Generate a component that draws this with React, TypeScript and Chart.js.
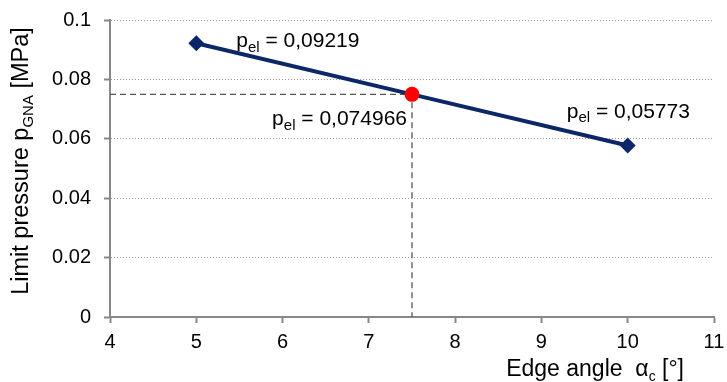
import React, { useEffect, useRef } from "react";
import { Chart, registerables } from "chart.js";

Chart.register(...registerables);

const edgeAngles = [5, 7.5, 10];
const limitPressures = [0.09219, 0.074966, 0.05773];
const labelTexts = ["0,09219", "0,074966", "0,05773"];
const xTicks = [4, 5, 6, 7, 8, 9, 10, 11];
const yTicks = [0, 0.02, 0.04, 0.06, 0.08, 0.1];

const FONT = "Arial, 'Liberation Sans', sans-serif";
const NAVY = "#0c2767";

function drawSubText(
  ctx: CanvasRenderingContext2D,
  parts: { t: string; sub?: boolean }[],
  x: number,
  y: number,
  size: number,
  align: "left" | "right" | "center",
  subRatio = 0.7
) {
  const subSize = Math.round(size * subRatio);
  let total = 0;
  const widths = parts.map((p) => {
    ctx.font = `${p.sub ? subSize : size}px ${FONT}`;
    const w = ctx.measureText(p.t).width;
    total += w;
    return w;
  });
  let cx = align === "left" ? x : align === "right" ? x - total : x - total / 2;
  ctx.textBaseline = "alphabetic";
  ctx.textAlign = "left";
  parts.forEach((p, i) => {
    ctx.font = `${p.sub ? subSize : size}px ${FONT}`;
    ctx.fillText(p.t, cx, p.sub ? y + size * 0.23 : y);
    cx += widths[i];
  });
}

const annotPlugin = {
  id: "annot",
  afterDatasetsDraw(chart: any) {
    const ctx = chart.ctx as CanvasRenderingContext2D;
    const xs = chart.scales.x;
    const ys = chart.scales.y;
    ctx.save();
    ctx.fillStyle = "#000";
    const px = edgeAngles.map((v) => xs.getPixelForValue(v));
    const py = limitPressures.map((v) => ys.getPixelForValue(v));
    const mk = (val: string) => [{ t: "p" }, { t: "el", sub: true }, { t: " = " + val }];
    drawSubText(ctx, mk(labelTexts[0]), px[0] + 40, py[0] + 4, 21, "left", 0.72);
    drawSubText(ctx, mk(labelTexts[1]), px[1] - 5, py[1] + 31, 21, "right", 0.72);
    drawSubText(ctx, mk(labelTexts[2]), px[2] - 61, py[2] - 28, 21, "left", 0.72);

    // axis titles
    drawSubText(
      ctx,
      [{ t: "Edge angle  α" }, { t: "c", sub: true }, { t: " [°]" }],
      684,
      376,
      23,
      "right",
      0.62
    );
    ctx.translate(27.5, 161);
    ctx.rotate(-Math.PI / 2);
    drawSubText(
      ctx,
      [{ t: "Limit pressure p" }, { t: "GNA", sub: true }, { t: " [MPa]" }],
      0,
      0,
      23.5,
      "center",
      0.62
    );
    ctx.restore();
  },
};

export default function App() {
  const ref = useRef<HTMLCanvasElement | null>(null);
  useEffect(() => {
    if (!ref.current) return;
    const mainData = edgeAngles.map((x, i) => ({ x, y: limitPressures[i] }));
    const mid = mainData[1];
    const guide = [
      { x: xTicks[0], y: mid.y },
      { x: mid.x, y: mid.y },
      { x: mid.x, y: yTicks[0] },
    ];
    const chart = new Chart(ref.current, {
      type: "scatter",
      data: {
        datasets: [
          {
            data: guide,
            showLine: true,
            borderColor: "#555",
            borderWidth: 1.3,
            borderDash: [6, 4],
            pointRadius: 0,
            order: 3,
          } as any,
          {
            data: mainData,
            showLine: true,
            borderColor: NAVY,
            backgroundColor: NAVY,
            borderWidth: 4,
            pointStyle: "rectRot",
            pointRadius: [8, 0, 8],
            pointBorderWidth: 0,
            order: 2,
          },
          {
            data: [mid],
            showLine: false,
            backgroundColor: "#ff0000",
            borderColor: "#ff0000",
            pointRadius: 7.5,
            pointBorderWidth: 0,
            order: 1,
          },
        ],
      },
      options: {
        animation: false,
        responsive: false,
        layout: { padding: { left: 0, right: 13, top: 20, bottom: 0 } },
        plugins: { legend: { display: false }, tooltip: { enabled: false } },
        scales: {
          x: {
            type: "linear",
            min: xTicks[0],
            max: xTicks[xTicks.length - 1],
            afterFit: (s: any) => {
              s.height = 65;
              s.paddingLeft = 0;
              s.paddingRight = 0;
            },
            afterBuildTicks: (s: any) => {
              s.ticks = xTicks.map((v) => ({ value: v }));
            },
            ticks: {
              font: { size: 20, family: FONT },
              color: "#000",
              padding: 7,
            },
            grid: {
              drawOnChartArea: false,
              drawTicks: true,
              tickLength: 6,
              tickColor: "#888",
              tickWidth: 2,
            },
            border: { color: "#888", width: 2 },
          },
          y: {
            type: "linear",
            min: yTicks[0],
            max: yTicks[yTicks.length - 1],
            afterFit: (s: any) => {
              s.width = 110;
              s.paddingTop = 0;
              s.paddingBottom = 0;
            },
            afterBuildTicks: (s: any) => {
              s.ticks = yTicks.map((v) => ({ value: v }));
            },
            ticks: {
              font: { size: 20, family: FONT },
              color: "#000",
              padding: 13,
              callback: (v: any) => String(+Number(v).toFixed(2)),
            },
            grid: {
              color: "#9a9a9a",
              lineWidth: 1,
              drawTicks: true,
              tickLength: 6,
              tickColor: "#888",
              tickWidth: 2,
              tickBorderDash: [],
            },
            border: { color: "#888", width: 2, dash: [1, 2] },
          },
        },
      },
      plugins: [annotPlugin],
    } as any);
    return () => chart.destroy();
  }, []);
  return (
    <div style={{ position: "absolute", left: 0, top: 0, width: 727, height: 382, background: "#fff" }}>
      <canvas ref={ref} width={727} height={382} style={{ display: "block" }} />
    </div>
  );
}
